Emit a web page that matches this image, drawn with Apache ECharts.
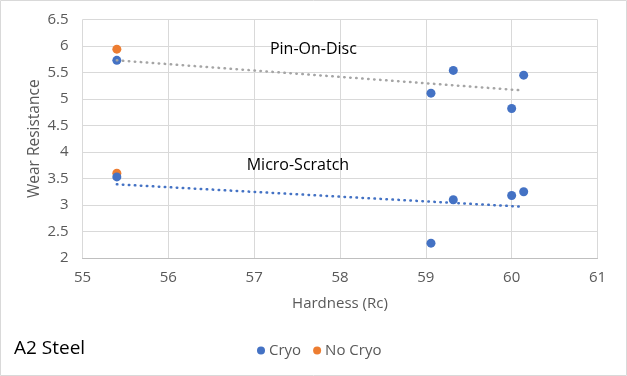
<!DOCTYPE html>
<html>
<head>
<meta charset="utf-8">
<script src="https://cdn.jsdelivr.net/npm/echarts@6/dist/echarts.min.js"></script>
<style>
  html, body { margin: 0; padding: 0; background: #fff; }
  #chart { width: 627px; height: 376px; }
</style>
</head>
<body>
<div id="chart"></div>
<script>
// Hardness (Rc) vs wear resistance, A2 steel
const cryoPoints = [
  [55.4, 5.73], [59.06, 5.11], [59.32, 5.54], [60.0, 4.82], [60.14, 5.45],
  [55.4, 3.53], [59.06, 2.28], [59.32, 3.10], [60.0, 3.18], [60.14, 3.25]
];
const noCryoPoints = [[55.4, 5.94], [55.4, 3.60]];

// trend line end points
const pinOnDiscTrend = [[55.4, 5.73], [60.14, 5.16]];
const microScratchTrend = [[55.4, 3.39], [60.1, 2.97]];

const groupLabels = [
  { name: 'Pin-On-Disc', value: [57.69, 5.94] },
  { name: 'Micro-Scratch', value: [57.51, 3.74] }
];

const fontFamily = '"Open Sans", "Noto Sans", sans-serif';
const gridColor = '#d9d9d9';
const textGrey = '#595959';

const chart = echarts.init(document.getElementById('chart'));

chart.setOption({
  animation: false,
  textStyle: { fontFamily },
  grid: { left: 82.5, right: 29.5, top: 19.5, bottom: 118 },
  xAxis: {
    type: 'value',
    min: 55, max: 61, interval: 1,
    name: 'Hardness (Rc)',
    nameLocation: 'middle',
    nameGap: 38,
    nameMoveOverlap: false,
    nameTextStyle: { color: textGrey, fontSize: 15, fontFamily },
    axisLine: { show: true, lineStyle: { color: '#bfbfbf' } },
    axisTick: { show: false },
    axisLabel: { color: textGrey, fontSize: 15, margin: 12 },
    splitLine: { show: true, lineStyle: { color: gridColor } }
  },
  yAxis: {
    type: 'value',
    min: 2, max: 6.5, interval: 0.5,
    name: 'Wear Resistance',
    nameLocation: 'middle',
    nameGap: 40,
    nameMoveOverlap: false,
    nameTextStyle: { color: textGrey, fontSize: 15.5, fontFamily },
    axisLine: { show: false },
    axisTick: { show: false },
    axisLabel: { color: textGrey, fontSize: 15, margin: 14 },
    splitLine: { show: true, lineStyle: { color: gridColor } }
  },
  legend: {
    bottom: 13,
    left: 252,
    itemWidth: 8,
    itemHeight: 8,
    itemGap: 12,
    icon: 'circle',
    textStyle: { color: textGrey, fontSize: 15, padding: [0, 0, 0, -1] },
    data: ['Cryo', 'No Cryo']
  },
  graphic: [
    {
      type: 'rect',
      shape: { x: 0.5, y: 0.5, width: 626, height: 375 },
      style: { fill: 'none', stroke: gridColor, lineWidth: 1 },
      silent: true
    },
    {
      type: 'text',
      left: 14,
      top: 339,
      style: { text: 'A2 Steel', fill: '#000', font: '19px ' + fontFamily }
    }
  ],
  series: [
    {
      name: 'Pin-On-Disc trend',
      type: 'line',
      data: pinOnDiscTrend,
      symbol: 'none',
      lineStyle: { color: '#a5a5a5', width: 2.5, type: [0.5, 5.5], cap: 'round' },
      silent: true
    },
    {
      name: 'Micro-Scratch trend',
      type: 'line',
      data: microScratchTrend,
      symbol: 'none',
      lineStyle: { color: '#4472c4', width: 2.5, type: [0.5, 5.5], cap: 'round' },
      silent: true
    },
    {
      name: 'Cryo',
      type: 'scatter',
      data: cryoPoints,
      symbolSize: 9,
      itemStyle: { color: '#4472c4', opacity: 1 }
    },
    {
      name: 'No Cryo',
      type: 'scatter',
      data: noCryoPoints,
      symbolSize: 9,
      itemStyle: { color: '#ed7d31', opacity: 1 },
      z: 1
    },
    {
      name: 'labels',
      type: 'scatter',
      data: groupLabels,
      symbolSize: 0,
      silent: true,
      itemStyle: { opacity: 1 },
      label: {
        show: true,
        position: 'inside',
        formatter: '{b}',
        color: '#000',
        opacity: 1,
        fontSize: 16,
        fontFamily
      }
    }
  ]
});
</script>
</body>
</html>
